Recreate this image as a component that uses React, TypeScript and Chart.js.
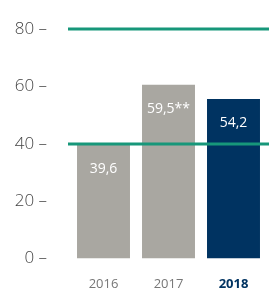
import React, { useEffect, useRef } from "react";
import { Chart, registerables } from "chart.js";

Chart.register(...registerables);

const categories = ["2016", "2017", "2018"];
const barHeights = [39.6, 60.6, 55.6];
const valueLabels = ["39,6", "59,5**", "54,2"];
const barColors = ["#a9a7a1", "#a9a7a1", "#003361"];
const yTicks = [0, 20, 40, 60, 80];
const referenceLines = [80, 40];

const FONT = "'Open Sans', 'DejaVu Sans', sans-serif";

const overlayPlugin = {
  id: "overlay",
  afterDatasetsDraw(chart: any) {
    const { ctx, scales, chartArea } = chart;
    const meta = chart.getDatasetMeta(0);
    ctx.save();
    ctx.fillStyle = "#ffffff";
    ctx.font = `14px ${FONT}`;
    ctx.textAlign = "center";
    ctx.textBaseline = "middle";
    meta.data.forEach((bar: any, i: number) => {
      ctx.fillText(valueLabels[i], bar.x, bar.y + 24);
    });
    ctx.strokeStyle = "#17977a";
    ctx.lineWidth = 3;
    referenceLines.forEach((v) => {
      const y = Math.round(scales.y.getPixelForValue(v));
      ctx.beginPath();
      ctx.moveTo(chartArea.left - 3, y);
      ctx.lineTo(chart.width, y);
      ctx.stroke();
    });
    ctx.restore();
  },
};

export default function App() {
  const ref = useRef<HTMLCanvasElement>(null);
  useEffect(() => {
    document.body.style.margin = "0";
    const chart = new Chart(ref.current!, {
      type: "bar",
      data: {
        labels: categories,
        datasets: [
          {
            data: barHeights,
            backgroundColor: barColors,
            categoryPercentage: 1,
            barPercentage: 0.815,
          },
        ],
      },
      options: {
        animation: false,
        responsive: false,
        events: [],
        layout: { padding: { top: 29, right: 3, left: 0, bottom: 0 } },
        plugins: { legend: { display: false }, tooltip: { enabled: false } },
        scales: {
          x: {
            grid: { display: false, drawTicks: false },
            border: { display: false },
            afterFit(scale: any) {
              scale.height = 32.5;
            },
            ticks: {
              padding: 18,
              font: (c: any) => ({
                family: FONT,
                size: 13,
                weight: c.index === 2 ? "bold" : "normal",
              }),
              color: (c: any) => (c.index === 2 ? "#003361" : "#777777"),
            },
          },
          y: {
            min: 0,
            max: 80,
            grid: { display: false },
            border: { display: false },
            afterFit(scale: any) {
              scale.width = 71;
            },
            afterBuildTicks(scale: any) {
              scale.ticks = yTicks.map((v) => ({ value: v }));
            },
            ticks: {
              padding: 16,
              font: { family: FONT, size: 17, weight: 300 },
              color: "#444444",
              callback: (v: any) => `${v} –`,
            },
          },
        },
      },
      plugins: [overlayPlugin],
    });
    return () => chart.destroy();
  }, []);
  return (
    <div style={{ width: 269, height: 291 }}>
      <canvas ref={ref} width={269} height={291} />
    </div>
  );
}
